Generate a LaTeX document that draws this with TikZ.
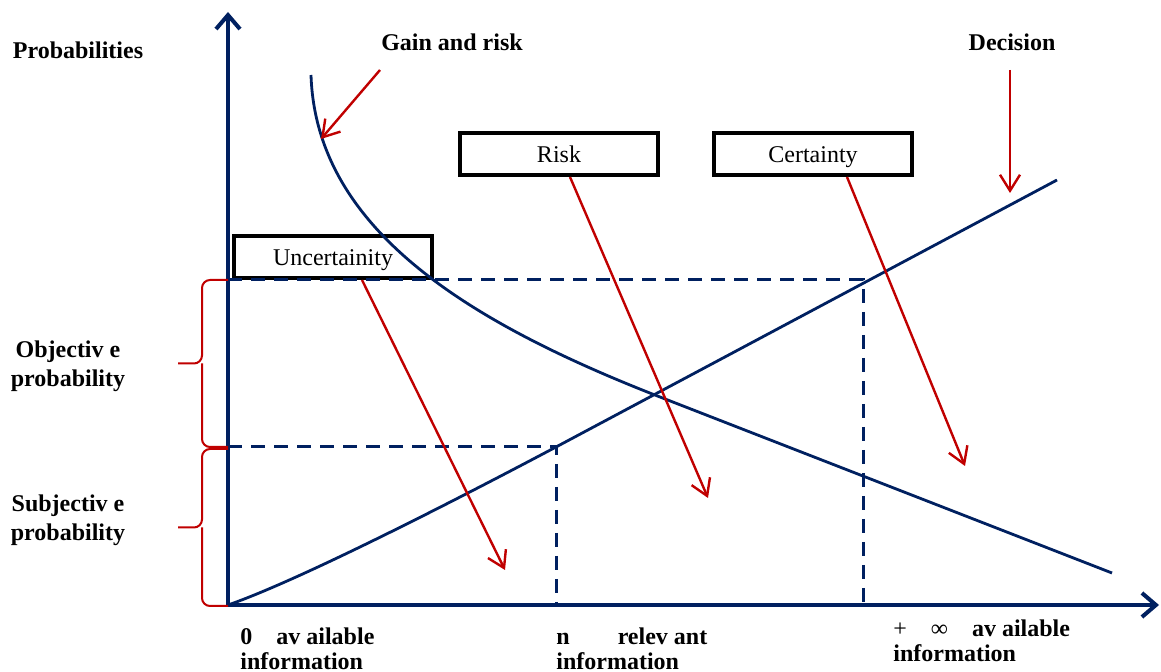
\documentclass[tikz,border=0pt]{standalone}
\usepackage{fontspec}
\setmainfont{Liberation Serif}
\usetikzlibrary{arrows.meta}
\definecolor{navy}{RGB}{0,32,96}
\definecolor{darkred}{RGB}{192,0,0}

\begin{document}
\begin{tikzpicture}[x=0.5pt,y=-0.5pt,
    axis/.style={navy,line width=2pt,-{Straight Barb[length=7pt,width=12pt]}},
    curve/.style={navy,line width=1.4pt},
    guide/.style={navy,line width=1.5pt,dash pattern=on 7pt off 4.5pt},
    box/.style={draw=black,line width=2pt,minimum width=99pt,minimum height=21pt,inner sep=0pt,
      text height=11pt,text depth=2pt,font=\fontsize{12}{14}\selectfont},
    label/.style={font=\fontsize{12}{14.5}\selectfont\bfseries,align=center},
    infolabel/.style={font=\fontsize{12}{12.5}\selectfont\bfseries,align=left,anchor=north west,inner sep=0pt},
    pointer/.style={darkred,line width=1.2pt,-{Straight Barb[length=8pt,width=10pt]}},
    bracket/.style={darkred,line width=1pt,rounded corners=4pt}]
\useasboundingbox (0,0) rectangle (1161,672);

% boxes and labels
\node[box] (unc) at (333,257) {Uncertainity};
\node[box] (risk) at (559,154) {Risk};
\node[box] (cert) at (813,154) {Certainty};
\node[label] (prob) at (78,50) {Probabilities};
\node[label] (gain) at (452,42) {Gain and risk};
\node[label] (dec) at (1012,42) {Decision};
\node[label] (obj) at (68,366) {Objectiv e\\probability};
\node[label] (subj) at (68,520) {Subjectiv e\\probability};
\node[infolabel] (zero) at (240,627) {0\quad av ailable\\information};
\node[infolabel] (rel) at (556,627) {n\qquad relev ant\\information};
\node[infolabel] (inf) at (893,619) {{\mdseries +\quad ∞}\quad av ailable\\information};

% axes
\coordinate (O) at (228,605);
\coordinate (ytop) at (228,12);
\coordinate (xend) at (1159,605);
\draw[axis] (O) -- (ytop);
\draw[axis] (O) -- (xend);

% guides
\coordinate (hi) at (228,280);
\coordinate (lo) at (228,447);
\coordinate (pinf) at (863,280);
\coordinate (pn) at (556,447);
\draw[guide] (hi) -- (pinf) -- (pinf |- O);
\draw[guide] (lo) -- (pn) -- (pn |- O);

% curves
\coordinate (decend) at (1057,180);
\coordinate (gaintop) at (311,75);
\coordinate (cross) at (660,397);
\coordinate (gainend) at (1112,573);
\draw[curve] (O) .. controls (300,580) and (456,500) .. (pn) -- (decend);
\draw[curve] (gaintop) .. controls (316,230) and (470,323) .. (cross) -- (gainend);

% braces
\foreach \a/\b in {280/447,449/606}
  \draw[bracket] (228,\a) -| (202,{(\a+\b)/2}) -- (178,{(\a+\b)/2})
                 (228,\b) -| (202,{(\a+\b)/2});

% pointers
\coordinate (gainA) at (380,70);
\coordinate (gainB) at (321,139);
\coordinate (decA) at (1010,70);
\coordinate (decB) at (1010,193);
\coordinate (uncB) at (505,570);
\coordinate (riskB) at (708,498);
\coordinate (certB) at (965,466);
\draw[pointer] (gainA) -- (gainB);
\draw[pointer] (decA) -- (decB);
\draw[pointer] ([xshift=14.5pt]unc.south) -- (uncB);
\draw[pointer] ([xshift=5.5pt]risk.south) -- (riskB);
\draw[pointer] ([xshift=17pt]cert.south) -- (certB);
\end{tikzpicture}
\end{document}
